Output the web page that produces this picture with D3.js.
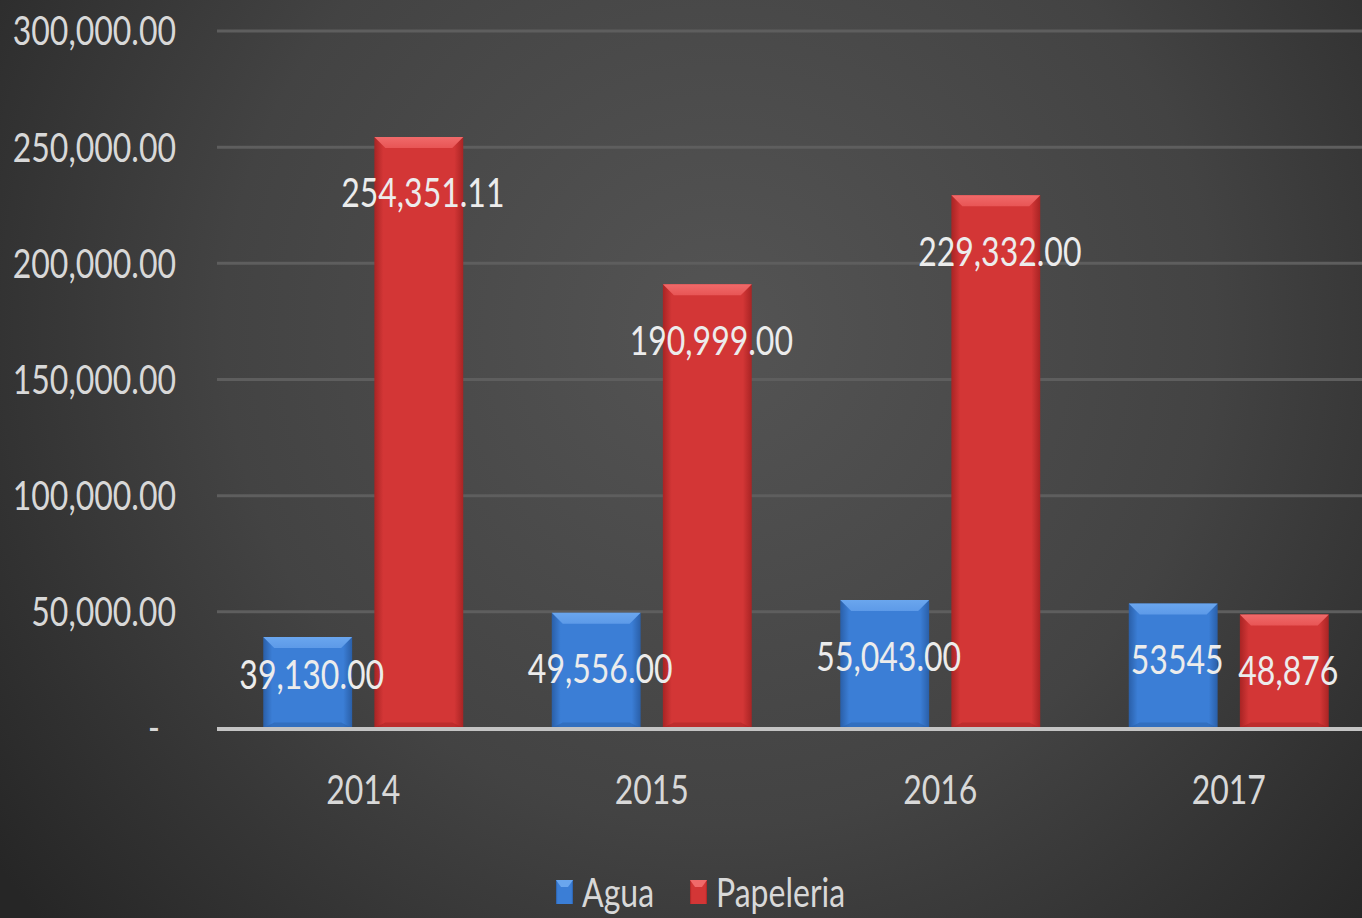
<!DOCTYPE html>
<html><head><meta charset="utf-8">
<script src="https://cdn.jsdelivr.net/npm/d3@7"></script>
<style>html,body{margin:0;padding:0;background:#3a3a3a;overflow:hidden}</style>
</head><body>
<svg id="c" width="1362" height="918"></svg>
<script>
const years = ["2014","2015","2016","2017"];
const agua = [39130.00, 49556.00, 55043.00, 53545];
const papeleria = [254351.11, 190999.00, 229332.00, 48876];
const aguaLabels = ["39,130.00","49,556.00","55,043.00","53545"];
const papeleriaLabels = ["254,351.11","190,999.00","229,332.00","48,876"];
const yTicks = [0, 50000, 100000, 150000, 200000, 250000, 300000];
const seriesNames = ["Agua","Papeleria"];

const W = 1362, H = 918;
const svg = d3.select("#c");
const defs = svg.append("defs");
const FONT = "Lato, 'Open Sans', sans-serif";
const SX = 0.8;

// background
const bg = defs.append("radialGradient").attr("id","bg").attr("gradientUnits","userSpaceOnUse")
  .attr("cx",720).attr("cy",330).attr("r",900);
bg.append("stop").attr("offset","0").attr("stop-color","#545454");
bg.append("stop").attr("offset","0.55").attr("stop-color","#434343");
bg.append("stop").attr("offset","1").attr("stop-color","#262626");
svg.append("rect").attr("width",W).attr("height",H).attr("fill","url(#bg)");

const colors = {
  Agua: {base:"#3b7ed6", dark:"#2a5fa8", light:"#6aa6ee", top:"#5d9ae8"},
  Papeleria: {base:"#d33636", dark:"#a82424", light:"#f06a6a", top:"#e85555"}
};
Object.entries(colors).forEach(([k,c])=>{
  const g = defs.append("linearGradient").attr("id","h"+k).attr("x1",0).attr("x2",1).attr("y1",0).attr("y2",0);
  g.append("stop").attr("offset","0").attr("stop-color",c.dark);
  g.append("stop").attr("offset","0.1").attr("stop-color",c.base);
  g.append("stop").attr("offset","0.9").attr("stop-color",c.base);
  g.append("stop").attr("offset","1").attr("stop-color",c.dark);
  const t = defs.append("linearGradient").attr("id","t"+k).attr("x1",0).attr("x2",0).attr("y1",0).attr("y2",1);
  t.append("stop").attr("offset","0").attr("stop-color",c.light);
  t.append("stop").attr("offset","1").attr("stop-color",c.top);
});

const y = d3.scaleLinear().domain([0,300000]).range([728,31]);
const x0 = d3.scaleBand().domain(years).range([219,1373]).paddingInner(0).paddingOuter(0);
const x1 = d3.scaleBand().domain(seriesNames).range([x0.bandwidth()/2-100, x0.bandwidth()/2+100]).paddingInner(0.2).paddingOuter(0);

// gridlines
svg.append("g").selectAll("line").data(yTicks.filter(d=>d>0)).join("line")
  .attr("x1",217).attr("x2",W).attr("y1",d=>y(d)).attr("y2",d=>y(d))
  .attr("stroke","#5e5e5e").attr("stroke-width",3);

// y tick labels
const fmt = d3.format(",.2f");
svg.append("g").selectAll("text").data(yTicks).join("text")
  .attr("transform",d=>`translate(${d===0?160:176},${y(d)}) scale(${SX},1)`)
  .attr("text-anchor","end").attr("dy","0.36em")
  .attr("font-family",FONT).attr("font-size",40).attr("fill","#d8d8d8")
  .text(d=>d===0?"-":fmt(d));

// bars
const data = [];
years.forEach((yr,i)=>{
  data.push({year:yr, s:"Agua", v:agua[i], lab:aguaLabels[i]});
  data.push({year:yr, s:"Papeleria", v:papeleria[i], lab:papeleriaLabels[i]});
});
const bev = 11;
const bars = svg.append("g").selectAll("g").data(data).join("g")
  .attr("transform",d=>`translate(${x0(d.year)+x1(d.s)},0)`);
bars.append("rect").attr("x",0).attr("y",d=>y(d.v)).attr("width",x1.bandwidth()).attr("height",d=>y(0)-y(d.v))
  .attr("fill",d=>`url(#h${d.s})`);
bars.append("path").attr("d",d=>{
  const w = x1.bandwidth(), t = y(d.v);
  return `M0,${t} L${w},${t} L${w-bev},${t+bev} L${bev},${t+bev} Z`;
}).attr("fill",d=>`url(#t${d.s})`);
bars.append("path").attr("d",d=>{
  const w = x1.bandwidth(), t = y(d.v), b = y(0);
  return `M0,${b} L${w},${b} L${w-bev},${b-bev/2} L${bev},${b-bev/2} Z`;
}).attr("fill",d=>colors[d.s].dark).attr("opacity",0.5);

// value labels (separate layer, above all bars)
svg.append("g").selectAll("text").data(data).join("text")
  .attr("transform",d=>`translate(${x0(d.year)+x1(d.s)+x1.bandwidth()/2+4},${Math.min(y(d.v)+56, y(0)-53)}) scale(${SX},1)`)
  .attr("text-anchor","middle").attr("dy","0.36em")
  .attr("font-family",FONT).attr("font-size",40).attr("fill","#ececec")
  .text(d=>d.lab);

// axis line
svg.append("line").attr("x1",217).attr("x2",W).attr("y1",y(0)+1).attr("y2",y(0)+1)
  .attr("stroke","#c4c4c4").attr("stroke-width",4);

// x labels
svg.append("g").selectAll("text").data(years).join("text")
  .attr("transform",d=>`translate(${x0(d)+x0.bandwidth()/2},${790}) scale(${SX},1)`)
  .attr("text-anchor","middle").attr("dy","0.36em")
  .attr("font-family",FONT).attr("font-size",40).attr("fill","#d8d8d8")
  .text(d=>d);

// legend
const leg = [{s:"Agua", x:556},{s:"Papeleria", x:690}];
const lg = svg.append("g").selectAll("g").data(leg).join("g").attr("transform",d=>`translate(${d.x},880)`);
lg.append("rect").attr("width",17).attr("height",24).attr("fill",d=>`url(#h${d.s})`);
lg.append("path").attr("d","M0,0 L17,0 L12,7 L5,7 Z").attr("fill",d=>colors[d.s].light);
lg.append("text").attr("transform",`translate(26,13) scale(${SX},1)`).attr("dy","0.36em")
  .attr("font-family",FONT).attr("font-size",40).attr("fill","#d8d8d8").text(d=>d.s);
</script>
</body></html>
